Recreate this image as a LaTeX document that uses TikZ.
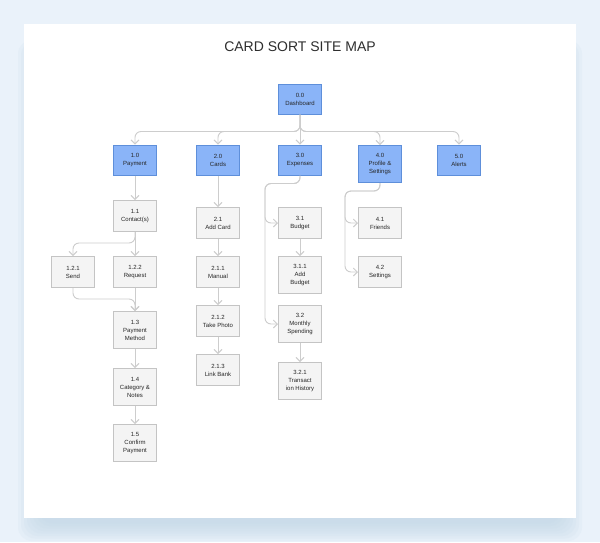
\documentclass[tikz,border=0pt]{standalone}
\usepackage{fontspec}
\setmainfont{Liberation Sans}
\usetikzlibrary{arrows.meta}

\definecolor{pagebg}{HTML}{EAF2FA}
\definecolor{shadowc}{HTML}{BFD5E6}
\definecolor{topfill}{HTML}{8AB4F8}
\definecolor{topline}{HTML}{5E8FDA}
\definecolor{subfill}{HTML}{F4F4F4}
\definecolor{subline}{HTML}{C4C4C4}
\definecolor{linkc}{HTML}{CDCDCD}
\definecolor{titlec}{HTML}{2E2E2E}

\begin{document}
\begin{tikzpicture} [x=1pt,y=-1pt,thick,
			>={Straight Barb[length=4pt,width=8pt]},
			every node/.style={font=\fontsize{6}{8}\selectfont,align=center,text=black!85},
			topbox/.style={draw=topline,fill=topfill,line width=1pt,minimum width=43pt,minimum height=30pt,inner sep=1pt},
			subbox/.style={draw=subline,fill=subfill,line width=1pt,minimum width=43pt,minimum height=31pt,inner sep=1pt},
			tall/.style={minimum height=37pt},
			link/.style={draw=linkc,line width=0.9pt,rounded corners=6pt,->}]

		% page and card
		\useasboundingbox (0,0) rectangle (600,542);
		\fill [pagebg] (0,0) rectangle (600,542);
		\foreach \i in {0,...,7}
			\fill [shadowc,opacity=0.13,rounded corners=14pt] (18+3*\i,40+\i) rectangle (582-3*\i,541-2.5*\i);
		\fill [white] (24,24) rectangle (576,518);
		\node [font=\fontsize{14}{16}\selectfont,text=titlec] (title) at (300,47) {CARD SORT SITE MAP};

		% top level
		\node [topbox] (dash) at (300,99) {0.0\\Dashboard};
		\node [topbox] (pay) at (135,160) {1.0\\Payment};
		\node [topbox] (cards) at (218,160) {2.0\\Cards};
		\node [topbox] (exp) at (300,160) {3.0\\Expenses};
		\node [topbox,tall] (prof) at (380,164) {4.0\\Profile \&\\Settings};
		\node [topbox] (alerts) at (459,160) {5.0\\Alerts};

		% payment branch
		\node [subbox] (cont) at (135,216) {1.1\\Contact(s)};
		\node [subbox] (send) at (73,272) {1.2.1\\Send};
		\node [subbox] (req) at (135,272) {1.2.2\\Request};
		\node [subbox,tall] (paymeth) at (135,330) {1.3\\Payment\\Method};
		\node [subbox,tall] (catnotes) at (135,387) {1.4\\Category \&\\Notes};
		\node [subbox,tall] (confirm) at (135,443) {1.5\\Confirm\\Payment};

		% cards branch
		\node [subbox] (addcard) at (218,223) {2.1\\Add Card};
		\node [subbox] (manual) at (218,272) {2.1.1\\Manual};
		\node [subbox] (photo) at (218,321) {2.1.2\\Take Photo};
		\node [subbox] (bank) at (218,370) {2.1.3\\Link Bank};

		% expenses branch
		\node [subbox] (budget) at (300,223) {3.1\\Budget};
		\node [subbox,tall] (addbud) at (300,275) {3.1.1\\Add\\Budget};
		\node [subbox,tall] (monthly) at (300,324) {3.2\\Monthly\\Spending};
		\node [subbox,tall] (history) at (300,381) {3.2.1\\Transact\\ion History};

		% profile branch
		\node [subbox] (friends) at (380,223) {4.1\\Friends};
		\node [subbox] (settings) at (380,272) {4.2\\Settings};

		% links from dashboard
		\draw [link] (dash.south) -- ++(0,17) -| (pay.north);
		\draw [link] (dash.south) -- ++(0,17) -| (cards.north);
		\draw [link] (dash.south) -- (exp.north);
		\draw [link] (dash.south) -- ++(0,17) -| (prof.north);
		\draw [link] (dash.south) -- ++(0,17) -| (alerts.north);

		% payment links
		\draw [link] (pay.south) -- (cont.north);
		\draw [link] (cont.south) -- ++(0,11) -| (send.north);
		\draw [link] (cont.south) -- (req.north);
		\draw [link] (send.south) -- ++(0,11) -| (paymeth.north);
		\draw [link] (req.south) -- (paymeth.north);
		\draw [link] (paymeth.south) -- (catnotes.north);
		\draw [link] (catnotes.south) -- (confirm.north);

		% cards links
		\draw [link] (cards.south) -- (addcard.north);
		\draw [link] (addcard.south) -- (manual.north);
		\draw [link] (manual.south) -- (photo.north);
		\draw [link] (photo.south) -- (bank.north);

		% expenses links
		\draw [link] (exp.south) -- ++(0,8) -| ([xshift=-13pt]budget.west) -- (budget.west);
		\draw [link] (exp.south) -- ++(0,8) -| ([xshift=-13pt]monthly.west) -- (monthly.west);
		\draw [link] (budget.south) -- (addbud.north);
		\draw [link] (monthly.south) -- (history.north);

		% profile links
		\draw [link] (prof.south) -- ++(0,8) -| ([xshift=-13pt]friends.west) -- (friends.west);
		\draw [link] (prof.south) -- ++(0,8) -| ([xshift=-13pt]settings.west) -- (settings.west);

		\end{tikzpicture}
\end{document}
